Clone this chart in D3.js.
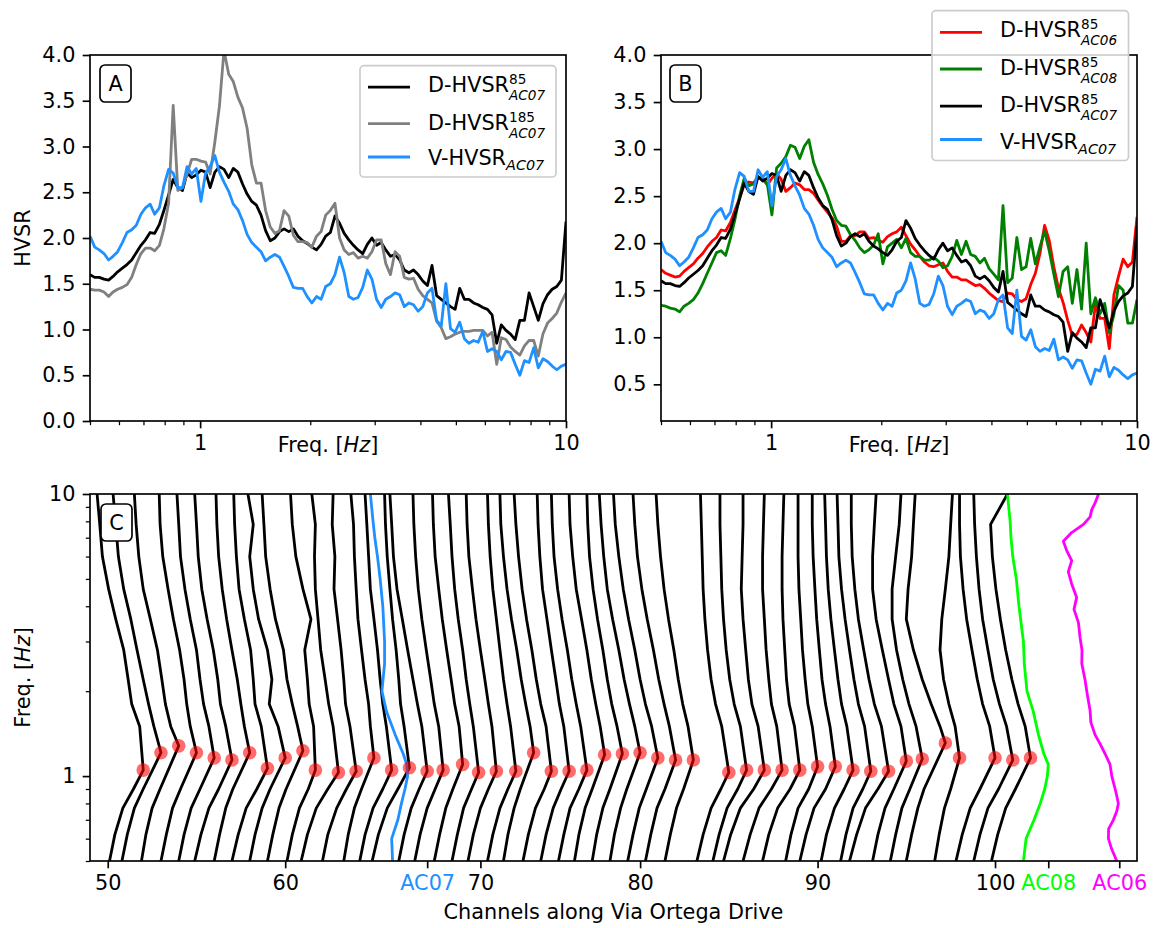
<!DOCTYPE html>
<html><head><meta charset="utf-8">
<script src="https://cdn.jsdelivr.net/npm/d3@7"></script>
<style>body{margin:0;background:#fff} svg{display:block} text{font-family:"DejaVu Sans",sans-serif}</style>
</head><body><svg id="fig" width="1153" height="928"></svg>
<script>
// ---------------- DATA: panels A and B (HVSR vs frequency) ----------------
const freqs = [0.5,0.515,0.530,0.546,0.562,0.578,0.595,0.613,0.631,0.650,0.669,0.689,0.709,0.730,0.751,0.774,0.796,0.820,0.844,0.869,0.895,0.921,0.948,0.976,1.005,1.035,1.065,1.097,1.129,1.162,1.197,1.232,1.268,1.306,1.344,1.384,1.425,1.467,1.510,1.555,1.601,1.648,1.696,1.747,1.798,1.851,1.906,1.962,2.020,2.080,2.141,2.204,2.269,2.336,2.405,2.476,2.549,2.624,2.702,2.782,2.864,2.948,3.035,3.125,3.217,3.312,3.410,3.510,3.614,3.721,3.830,3.943,4.060,4.180,4.303,4.430,4.561,4.695,4.834,4.976,5.123,5.275,5.430,5.590,5.755,5.925,6.100,6.280,6.466,6.656,6.853,7.055,7.263,7.478,7.698,7.926,8.160,8.400,8.648,8.904,9.166,9.437,9.715,10];
const dhvsr85AC07 = [1.60,1.57,1.57,1.55,1.54,1.58,1.63,1.67,1.71,1.76,1.84,1.92,1.98,2.06,2.05,2.15,2.30,2.47,2.64,2.55,2.52,2.71,2.66,2.69,2.74,2.72,2.55,2.72,2.78,2.75,2.66,2.76,2.72,2.59,2.48,2.40,2.36,2.25,2.08,1.97,2.00,2.07,2.10,2.07,2.10,2.02,1.97,1.94,1.90,1.87,1.93,2.02,2.06,2.24,2.16,2.05,1.98,1.92,1.87,1.83,1.93,2.00,1.92,1.95,1.87,1.80,1.82,1.76,1.65,1.62,1.65,1.60,1.53,1.48,1.70,1.37,1.33,1.29,1.25,1.22,1.45,1.33,1.33,1.29,1.27,1.24,1.22,1.16,0.85,1.05,0.99,0.95,0.89,1.10,1.10,1.40,1.25,1.10,1.28,1.38,1.44,1.47,1.54,2.18];
const dhvsr185AC07 = [1.44,1.43,1.43,1.41,1.36,1.41,1.44,1.46,1.49,1.57,1.71,1.83,1.89,1.89,1.86,1.92,2.10,2.38,3.45,2.52,2.55,2.70,2.86,2.86,2.84,2.83,2.70,3.05,3.44,4.05,3.79,3.71,3.54,3.42,3.20,2.80,2.60,2.60,2.30,2.12,2.05,2.08,2.30,2.24,2.03,1.96,1.96,1.95,1.90,2.02,2.07,2.25,2.30,2.38,2.00,1.87,1.82,1.84,1.78,1.80,1.78,1.85,1.98,1.98,1.72,1.60,1.85,1.80,1.57,1.55,1.56,1.44,1.37,1.33,1.29,1.09,1.02,0.90,0.92,0.95,0.97,0.98,0.98,0.99,0.99,0.99,0.93,0.97,0.62,0.91,0.89,0.81,0.76,0.72,0.82,0.88,0.88,0.71,0.95,1.07,1.12,1.18,1.30,1.40];
const vhvsrAC07 = [2.02,1.90,1.87,1.83,1.76,1.80,1.85,1.95,2.06,2.09,2.14,2.26,2.33,2.37,2.26,2.33,2.57,2.75,2.71,2.55,2.55,2.78,2.70,2.76,2.40,2.71,2.78,2.90,2.72,2.61,2.51,2.37,2.31,2.19,2.04,1.95,1.90,1.85,1.75,1.79,1.82,1.79,1.69,1.58,1.46,1.45,1.45,1.36,1.29,1.36,1.33,1.47,1.50,1.60,1.79,1.62,1.36,1.33,1.35,1.46,1.65,1.55,1.33,1.24,1.33,1.36,1.40,1.38,1.25,1.29,1.27,1.20,1.25,1.40,1.45,1.10,1.04,1.50,1.01,0.97,1.08,0.90,0.85,0.88,0.86,0.98,0.76,0.79,0.76,0.67,0.76,0.75,0.62,0.50,0.66,0.64,0.80,0.58,0.68,0.65,0.60,0.56,0.60,0.62];
const dhvsr85AC06 = [1.72,1.68,1.66,1.64,1.65,1.70,1.74,1.78,1.84,1.89,1.96,2.02,2.06,2.14,2.13,2.22,2.35,2.48,2.62,2.65,2.64,2.70,2.68,2.62,2.69,2.74,2.68,2.55,2.59,2.64,2.62,2.57,2.57,2.53,2.46,2.39,2.33,2.27,2.18,2.02,2.02,2.08,2.08,2.12,2.12,2.05,2.06,2.03,2.01,2.07,2.10,2.12,2.17,2.08,1.99,1.93,1.86,1.80,1.76,1.75,1.77,1.79,1.70,1.64,1.64,1.61,1.61,1.58,1.55,1.56,1.52,1.47,1.43,1.39,1.38,1.47,1.46,1.40,1.38,1.41,1.56,1.68,1.89,2.19,2.03,1.75,1.52,1.37,1.18,1.02,1.03,1.13,1.05,0.95,1.35,1.20,1.20,0.88,1.45,1.65,1.83,1.75,1.80,2.28];
const dhvsr85AC08 = [1.34,1.33,1.31,1.30,1.27,1.33,1.36,1.40,1.47,1.57,1.68,1.79,1.90,1.92,1.87,2.05,2.25,2.50,2.69,2.61,2.63,2.70,2.69,2.63,2.30,2.80,2.85,2.92,3.04,3.02,2.90,3.03,3.10,2.86,2.73,2.63,2.51,2.36,2.24,2.19,2.18,2.09,2.03,1.95,1.90,1.93,1.98,2.10,1.78,1.96,2.00,2.04,1.95,2.05,1.90,1.86,1.86,1.82,1.82,1.85,1.81,1.74,1.76,1.86,2.03,1.88,2.02,1.88,1.86,1.79,1.84,1.73,1.67,1.61,2.40,1.58,1.63,2.06,1.72,1.75,2.05,1.78,1.96,2.13,1.92,1.67,1.43,1.70,1.75,1.36,1.72,1.30,2.00,1.25,1.42,1.25,1.36,1.05,1.24,1.55,1.50,1.15,1.15,1.40];
const yTicksA = [0,0.5,1,1.5,2,2.5,3,3.5,4];
const yTicksB = [0.5,1,1.5,2,2.5,3,3.5,4];
const freqTicks = [1,10];
const freqMinor = [0.5,0.6,0.7,0.8,0.9,2,3,4,5,6,7,8,9];

// ---------------- DATA: panel C (curves along channels) ----------------
const cLevels = [0.5,0.62,0.77,0.9,1.5,1.8,2.2,2.8,3.6,4.6,6,7.8,10];
const cPeakPos = [52,53,54,55,56,57,58,59,60,61,61.7,63,64,65,66,67,68,68.9,70,70.9,71.9,73,74,75,76,77,78,79,80,81,82,83,85,86,87,88,89,90,91,92,93,94,95,95.9,97.2,98,100,101,102];
const cPeakFreq = [1.05,1.21,1.28,1.21,1.16,1.14,1.21,1.065,1.16,1.23,1.05,1.03,1.04,1.16,1.05,1.07,1.04,1.05,1.10,1.03,1.04,1.04,1.21,1.04,1.04,1.05,1.19,1.20,1.21,1.16,1.14,1.14,1.03,1.05,1.05,1.05,1.05,1.08,1.08,1.05,1.04,1.04,1.13,1.15,1.31,1.16,1.16,1.14,1.16];
const cOffsets = [
[-1.9,-1.6,-1.15,-0.55,-0.2,-0.65,-0.85,-1.1,-1.55,-1.95,-2.3,-2.45,-2.6],
[-2.2,-1.9,-1.5,-1.0,-0.4,-0.7,-1.0,-1.35,-1.7,-2.1,-2.4,-2.55,-2.7],
[-2.1,-1.85,-1.5,-1.05,-0.45,-0.75,-0.95,-1.2,-1.6,-2.0,-2.25,-2.4,-2.5],
[-2.0,-1.7,-1.35,-0.9,-0.35,-0.55,-0.7,-0.95,-1.3,-1.6,-1.9,-2.05,-2.1],
[-2.0,-1.7,-1.3,-0.8,-0.3,-0.6,-0.8,-1.0,-1.35,-1.65,-1.9,-2.0,-2.1],
[-2.1,-1.75,-1.3,-0.75,-0.35,-0.65,-0.8,-1.05,-1.4,-1.7,-1.9,-2.0,-2.1],
[-2.0,-1.7,-1.35,-0.95,-0.3,-0.5,-0.7,-1.0,-1.3,-1.55,-1.75,-1.85,-1.9],
[-2.0,-1.65,-1.2,-0.6,-0.35,-0.7,-0.8,-0.95,-1.3,-1.6,-1.75,-1.85,-1.9],
[-2.0,-1.7,-1.3,-0.85,-0.4,-0.9,-0.75,-1.0,-1.5,-1.8,-2.0,-1.8,-2.1],
[-2.0,-1.7,-1.35,-0.95,-0.3,-0.6,-0.9,-1.1,-1.55,-1.85,-2.1,-2.2,-2.3],
[-1.6,-1.3,-0.9,-0.4,-0.1,-0.35,-0.45,-0.6,-0.25,-0.7,-1.1,-1.3,-1.4],
[-2.1,-1.75,-1.25,-0.6,-0.3,-0.55,-0.75,-1.0,-1.15,-1.3,-1.35,-1.3,-1.5],
[-1.9,-1.6,-1.1,-0.55,-0.35,-0.6,-0.7,-0.85,-1.05,-1.25,-1.2,-1.35,-1.3],
[-1.7,-1.45,-1.1,-0.7,-0.2,-0.3,-0.5,-0.7,-0.9,-1.0,-1.1,-1.15,-1.3],
[-1.8,-1.5,-1.05,-0.5,-0.3,-0.5,-0.65,-0.8,-1.0,-1.2,-1.3,-1.4,-1.5],
[-2.1,-1.75,-1.25,-0.65,-0.3,-0.5,-0.6,-0.75,-0.95,-1.1,-1.25,-1.35,-1.4],
[-1.6,-1.3,-0.9,-0.45,-0.3,-0.55,-0.8,-1.1,-1.4,-1.7,-1.9,-2.0,-2.1],
[-1.6,-1.3,-0.9,-0.45,-0.25,-0.5,-0.7,-0.95,-1.2,-1.4,-1.55,-1.65,-1.7],
[-1.6,-1.3,-0.95,-0.55,-0.2,-0.45,-0.65,-0.9,-1.15,-1.35,-1.55,-1.65,-1.7],
[-1.5,-1.2,-0.85,-0.4,-0.3,-0.5,-0.7,-0.9,-1.15,-1.35,-1.5,-1.6,-1.7],
[-1.6,-1.3,-0.9,-0.45,-0.25,-0.45,-0.65,-0.9,-1.15,-1.35,-1.55,-1.65,-1.7],
[-1.6,-1.3,-0.9,-0.45,-0.3,-0.5,-0.7,-0.9,-1.1,-1.3,-1.45,-1.55,-1.6],
[-1.7,-1.45,-1.1,-0.75,-0.2,-0.45,-0.7,-0.95,-1.25,-1.5,-1.7,-1.85,-1.9],
[-1.6,-1.3,-0.9,-0.4,-0.3,-0.6,-0.85,-1.1,-1.4,-1.65,-1.85,-2.0,-2.1],
[-1.6,-1.3,-0.9,-0.45,-0.3,-0.55,-0.75,-1.0,-1.25,-1.5,-1.65,-1.75,-1.8],
[-1.6,-1.3,-0.95,-0.45,-0.35,-0.6,-0.85,-1.1,-1.4,-1.65,-1.85,-1.95,-2.0],
[-1.7,-1.45,-1.1,-0.7,-0.25,-0.5,-0.75,-1.0,-1.3,-1.6,-1.8,-1.95,-2.0],
[-1.7,-1.45,-1.1,-0.7,-0.3,-0.6,-0.85,-1.1,-1.4,-1.65,-1.85,-1.95,-2.0],
[-1.7,-1.45,-1.1,-0.75,-0.3,-0.6,-0.9,-1.2,-1.55,-1.85,-2.05,-2.2,-2.3],
[-1.7,-1.4,-1.05,-0.65,-0.35,-0.7,-1.0,-1.3,-1.65,-1.95,-2.2,-2.4,-2.5],
[-1.7,-1.4,-1.05,-0.6,-0.35,-0.65,-0.95,-1.25,-1.6,-1.9,-2.15,-2.3,-2.4],
[-1.6,-1.3,-0.95,-0.55,-0.3,-0.6,-0.85,-1.1,-1.4,-1.65,-1.85,-2.0,-2.1],
[-1.8,-1.45,-1.0,-0.45,-0.4,-0.75,-1.0,-1.2,-1.35,-1.45,-1.5,-1.55,-1.6],
[-1.9,-1.55,-1.1,-0.5,-0.35,-0.7,-0.95,-1.15,-1.3,-1.4,-1.45,-1.5,-1.5],
[-2.3,-1.9,-1.35,-0.6,-0.35,-0.7,-0.9,-1.05,-1.2,-1.3,-1.25,-1.2,-1.2],
[-2.2,-1.8,-1.3,-0.6,-0.3,-0.6,-0.75,-0.9,-1.0,-1.1,-1.1,-1.05,-1.0],
[-2.1,-1.75,-1.25,-0.55,-0.3,-0.6,-0.75,-0.85,-0.95,-1.0,-1.0,-0.95,-0.9],
[-1.8,-1.5,-1.1,-0.5,-0.3,-0.55,-0.7,-0.85,-0.95,-1.05,-1.1,-1.1,-1.1],
[-2.0,-1.65,-1.2,-0.55,-0.3,-0.55,-0.75,-0.9,-1.05,-1.15,-1.25,-1.3,-1.3],
[-1.8,-1.5,-1.05,-0.5,-0.35,-0.65,-0.85,-1.05,-1.25,-1.4,-1.5,-1.55,-1.6],
[-1.7,-1.4,-1.0,-0.45,-0.35,-0.7,-0.95,-1.2,-1.45,-1.65,-1.8,-1.85,-1.9],
[-2.2,-1.8,-1.3,-0.6,-0.4,-0.8,-1.1,-1.4,-1.7,-1.9,-2.05,-2.1,-2.1],
[-1.9,-1.6,-1.2,-0.7,-0.3,-0.7,-1.0,-1.35,-1.7,-1.9,-1.9,-1.8,-1.7],
[-1.8,-1.5,-1.15,-0.7,-0.35,-0.75,-1.1,-1.45,-1.7,-1.7,-1.5,-1.3,-1.2],
[-2.2,-1.9,-1.55,-1.2,-0.3,-0.8,-1.3,-1.8,-2.2,-2.1,-1.9,-1.8,-1.7],
[-1.4,-1.15,-0.85,-0.5,-0.25,-0.6,-0.9,-1.1,-1.0,-0.8,-0.6,-0.5,-0.4],
[-2.2,-1.85,-1.4,-0.85,-0.3,-0.7,-1.0,-1.3,-1.6,-1.8,-1.95,-2.0,-2.0],
[-2.2,-1.85,-1.4,-0.8,-0.35,-0.75,-1.1,-1.4,-1.7,-1.9,-2.05,-2.15,-2.2],
[-2.2,-1.85,-1.4,-0.85,-0.3,-0.7,-1.05,-1.4,-1.7,-1.95,-2.15,-2.25,-1.3]
];
const refLevels = [0.5,0.6,0.7,0.8,0.9,1.0,1.1,1.2,1.4,1.7,2,2.5,3,4,5,6,7,8,10];
const ac07Pos = [66.05,66.0,66.35,66.55,66.75,66.9,66.85,66.65,66.2,65.7,65.45,65.6,65.6,65.5,65.35,65.2,65.05,64.95,64.8];
const ac08Pos = [101.6,101.75,102.2,102.55,102.8,102.95,103.0,102.75,102.45,102.15,101.8,101.65,101.6,101.35,101.2,101.0,100.9,100.85,100.7];
const ac06Levels = [0.5,0.55,0.6,0.65,0.7,0.75,0.8,0.85,0.9,0.95,1.0,1.1,1.2,1.3,1.4,1.55,1.7,1.85,2.0,2.2,2.5,2.8,3.1,3.5,3.9,4.3,4.8,5.3,5.8,6.3,6.8,7.3,7.8,8.3,8.8,9.3,10];
const ac06Pos = [106.86,106.58,106.39,106.4,106.67,106.86,106.95,106.86,106.77,106.67,106.58,106.48,106.2,105.92,105.64,105.4,105.36,105.26,105.17,105.07,104.89,104.9,104.79,104.7,104.45,104.6,104.32,104.13,104.32,104.04,103.85,104.32,104.98,105.36,105.45,105.64,105.83];
const cTickPos = [50,60,68,71,80,90,100,103,107];
const cTickLabels = ["50","60","AC07","70","80","90","100","AC08","AC06"];
const cYTicks = [1,10];

// ---------------- DRAWING ----------------
const svg = d3.select("#fig");
const FS = 20.8, SFS = 13.6, TICK = 7.3, MINOR = 4.2, PAD = 7.3, AXW = 1.67, LW = 2.8;
const labelColor = {AC07:"#1e90ff", AC08:"#00ff00", AC06:"#ff00ff"};

function styleAxis(g, minor){
  g.select(".domain").remove();
  g.selectAll(".tick line").attr("stroke","#000").attr("stroke-width", minor?1.25:AXW);
  g.selectAll(".tick text").attr("font-size",FS).attr("fill","#000").attr("font-family","DejaVu Sans");
}
function clip(id, x0, y0, x1, y1){
  svg.append("clipPath").attr("id",id).append("rect").attr("x",x0).attr("y",y0).attr("width",x1-x0).attr("height",y1-y0);
}
function frame(x0,y0,x1,y1){
  svg.append("rect").attr("x",x0).attr("y",y0).attr("width",x1-x0).attr("height",y1-y0)
    .attr("fill","none").attr("stroke","#000").attr("stroke-width",AXW);
}
function panelLabel(x,y,t){
  svg.append("rect").attr("x",x).attr("y",y).attr("width",31).attr("height",37).attr("rx",5)
    .attr("fill","#fff").attr("stroke","#000").attr("stroke-width",AXW);
  svg.append("text").attr("x",x+15.5).attr("y",y+26).attr("text-anchor","middle").attr("font-size",FS).text(t);
}
function freqLabel(cx, y, rotate){
  const t = svg.append("text").attr("font-size",FS).attr("text-anchor","middle");
  if (rotate) t.attr("transform",`translate(${cx},${y}) rotate(-90)`); else t.attr("x",cx).attr("y",y);
  t.append("tspan").text("Freq. [");
  t.append("tspan").attr("font-style","italic").text("Hz");
  t.append("tspan").text("]");
}
function logFreqAxes(x, y, yTicks, x0, x1, y0, y1){
  const gx = svg.append("g").attr("transform",`translate(0,${y1})`)
    .call(d3.axisBottom(x).tickValues(freqTicks).tickFormat(d3.format("d")).tickSize(TICK).tickPadding(PAD).tickSizeOuter(0));
  styleAxis(gx,false);
  const gxm = svg.append("g").attr("transform",`translate(0,${y1})`)
    .call(d3.axisBottom(x).tickValues(freqMinor).tickFormat("").tickSize(MINOR).tickSizeOuter(0));
  styleAxis(gxm,true);
  const gy = svg.append("g").attr("transform",`translate(${x0},0)`)
    .call(d3.axisLeft(y).tickValues(yTicks).tickFormat(d3.format(".1f")).tickSize(TICK).tickPadding(PAD).tickSizeOuter(0));
  styleAxis(gy,false);
}
function series(x, y, vals, color, clipId){
  const line = d3.line().x((d,i)=>x(freqs[i])).y(d=>y(d));
  svg.append("path").datum(vals).attr("d",line).attr("fill","none").attr("stroke",color)
    .attr("stroke-width",LW).attr("stroke-linejoin","round").attr("clip-path",`url(#${clipId})`);
}
function legend(box, items){
  const g = svg.append("g");
  g.append("rect").attr("x",box.x).attr("y",box.y).attr("width",box.w).attr("height",box.h).attr("rx",4)
    .attr("fill","#fff").attr("fill-opacity",0.8).attr("stroke","#cccccc").attr("stroke-width",AXW);
  items.forEach(it=>{
    g.append("line").attr("x1",box.x+8).attr("x2",box.x+50).attr("y1",it.ly).attr("y2",it.ly)
      .attr("stroke",it.color).attr("stroke-width",LW);
    const tx = box.x+68;
    const t = g.append("text").attr("x",tx).attr("y",it.ty).attr("font-size",FS);
    const m = t.append("tspan").text(it.main);
    const w = m.node().getComputedTextLength();
    if (it.sup) {
      t.append("tspan").attr("x",tx+w).attr("dy",-8.4).attr("font-size",SFS).text(it.sup);
      t.append("tspan").attr("x",tx+w).attr("dy",16.0).attr("font-size",SFS).attr("font-style","italic").text(it.sub);
    } else {
      t.append("tspan").attr("x",tx+w).attr("dy",5).attr("font-size",SFS+0.8).attr("font-style","italic").text(it.sub);
    }
  });
}

// ----- Panel A -----
const AX0=90, AX1=566, AY0=55, AY1=421;
const xA = d3.scaleLog().domain([0.5,10]).range([AX0,AX1]);
const yA = d3.scaleLinear().domain([0,4]).range([AY1,AY0]);
clip("clipA",AX0,AY0,AX1,AY1);
series(xA,yA,dhvsr85AC07,"#000000","clipA");
series(xA,yA,dhvsr185AC07,"#808080","clipA");
series(xA,yA,vhvsrAC07,"#1e90ff","clipA");
logFreqAxes(xA,yA,yTicksA,AX0,AX1,AY0,AY1);
frame(AX0,AY0,AX1,AY1);
panelLabel(100,65,"A");
svg.append("text").attr("transform","translate(30,238) rotate(-90)").attr("text-anchor","middle").attr("font-size",FS).text("HVSR");
freqLabel((AX0+AX1)/2, 452, false);
legend({x:360,y:65.6,w:196,h:111.4},[
  {color:"#000000",ly:87.2,ty:92.2,main:"D-HVSR",sup:"85",sub:"AC07"},
  {color:"#808080",ly:123.7,ty:130.4,main:"D-HVSR",sup:"185",sub:"AC07"},
  {color:"#1e90ff",ly:157,ty:165.2,main:"V-HVSR",sub:"AC07"}
]);

// ----- Panel B -----
const BX0=661, BX1=1137, BY0=55, BY1=421;
const xB = d3.scaleLog().domain([0.5,10]).range([BX0,BX1]);
const yB = d3.scaleLinear().domain([0.11,4]).range([BY1,BY0]);
clip("clipB",BX0,BY0,BX1,BY1);
series(xB,yB,dhvsr85AC06,"#ff0000","clipB");
series(xB,yB,dhvsr85AC08,"#008000","clipB");
series(xB,yB,dhvsr85AC07,"#000000","clipB");
series(xB,yB,vhvsrAC07,"#1e90ff","clipB");
logFreqAxes(xB,yB,yTicksB,BX0,BX1,BY0,BY1);
frame(BX0,BY0,BX1,BY1);
panelLabel(670,65,"B");
freqLabel((BX0+BX1)/2, 452, false);
legend({x:932,y:10.7,w:196.5,h:149.8},[
  {color:"#ff0000",ly:32.4,ty:37.4,main:"D-HVSR",sup:"85",sub:"AC06"},
  {color:"#008000",ly:69,ty:75,main:"D-HVSR",sup:"85",sub:"AC08"},
  {color:"#000000",ly:106.2,ty:112.2,main:"D-HVSR",sup:"85",sub:"AC07"},
  {color:"#1e90ff",ly:139.5,ty:148.8,main:"V-HVSR",sub:"AC07"}
]);

// ----- Panel C -----
const CX0=90, CX1=1137, CY0=494, CY1=861;
const xC = d3.scaleLinear().domain([49,108]).range([CX0,CX1]);
const yC = d3.scaleLog().domain([0.5,10]).range([CY1,CY0]);
clip("clipC",CX0,CY0,CX1,CY1);
const cLine = d3.line().x(d=>xC(d.x)).y(d=>yC(d.f));
cPeakPos.forEach((p,i)=>{
  const off = cOffsets[i];
  const pts = [];
  cLevels.forEach((f,j)=>{
    if (j===4) pts.push({f:cPeakFreq[i], x:p});
    pts.push({f:f, x:p+off[j]});
  });
  svg.append("path").datum(pts).attr("d",cLine).attr("fill","none").attr("stroke","#000")
    .attr("stroke-width",LW).attr("stroke-linejoin","round").attr("clip-path","url(#clipC)");
});
function refCurve(levels, pos, color){
  const pts = levels.map((f,i)=>({f:f,x:pos[i]}));
  svg.append("path").datum(pts).attr("d",cLine).attr("fill","none").attr("stroke",color)
    .attr("stroke-width",LW).attr("stroke-linejoin","round").attr("clip-path","url(#clipC)");
}
refCurve(refLevels, ac07Pos, "#1e90ff");
refCurve(refLevels, ac08Pos, "#00ff00");
refCurve(ac06Levels, ac06Pos, "#ff00ff");
svg.append("g").selectAll("circle").data(cPeakPos).join("circle")
  .attr("cx",d=>xC(d)).attr("cy",(d,i)=>yC(cPeakFreq[i])).attr("r",6.8)
  .attr("fill","#ff0000").attr("fill-opacity",0.58);

const gcx = svg.append("g").attr("transform",`translate(0,${CY1})`)
  .call(d3.axisBottom(xC).tickValues(cTickPos).tickFormat((d,i)=>cTickLabels[i]).tickSize(TICK).tickPadding(PAD).tickSizeOuter(0));
styleAxis(gcx,false);
gcx.selectAll(".tick text").attr("fill",(d,i)=>labelColor[cTickLabels[i]]||"#000");
const gcy = svg.append("g").attr("transform",`translate(${CX0},0)`)
  .call(d3.axisLeft(yC).tickValues(cYTicks).tickFormat(d3.format("d")).tickSize(TICK).tickPadding(PAD).tickSizeOuter(0));
styleAxis(gcy,false);
const gcym = svg.append("g").attr("transform",`translate(${CX0},0)`)
  .call(d3.axisLeft(yC).tickValues(freqMinor).tickFormat("").tickSize(MINOR).tickSizeOuter(0));
styleAxis(gcym,true);
frame(CX0,CY0,CX1,CY1);
panelLabel(101,504,"C");
freqLabel(30, (CY0+CY1)/2, true);
svg.append("text").attr("x",(CX0+CX1)/2).attr("y",919).attr("text-anchor","middle").attr("font-size",FS).text("Channels along Via Ortega Drive");
</script></body></html>
